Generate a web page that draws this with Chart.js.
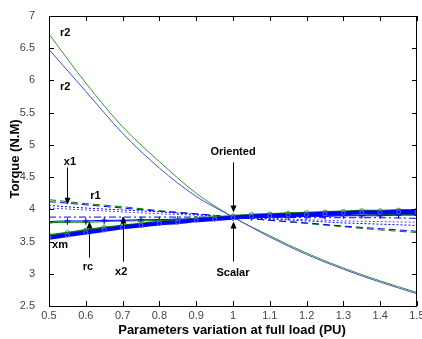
<!DOCTYPE html>
<html>
<head>
<meta charset="utf-8">
<script src="https://cdn.jsdelivr.net/npm/chart.js@4.4.0/dist/chart.umd.min.js"></script>
<style>
  html, body { margin: 0; padding: 0; background: #fff; }
  #wrap { width: 422px; height: 339px; }
</style>
</head>
<body>
<div id="wrap"><canvas id="torqueChart" width="422" height="339"></canvas></div>
<script>
// parameter variation (PU)
const xCoarse = [0.5, 0.6, 0.7, 0.8, 0.9, 1.0, 1.1, 1.2, 1.3, 1.4, 1.5];
const xFine = [0.5, 0.55, 0.6, 0.65, 0.7, 0.75, 0.8, 0.85, 0.9, 0.95, 1.0,
  1.05, 1.1, 1.15, 1.2, 1.25, 1.3, 1.35, 1.4, 1.45, 1.5];

const xTicks = [0.5, 0.6, 0.7, 0.8, 0.9, 1.0, 1.1, 1.2, 1.3, 1.4, 1.5];
const xTickLabels = ["0.5", "0.6", "0.7", "0.8", "0.9", "1", "1.1", "1.2", "1.3", "1.4", "1.5"];
const yTicks = [2.5, 3, 3.5, 4, 4.5, 5, 5.5, 6, 6.5, 7];
const yTickLabels = ["2.5", "3", "3.5", "4", "4.5", "5", "5.5", "6", "6.5", "7"];

// torque (N.M), coarse grid
const r2Green = [6.72, 5.96, 5.28, 4.74, 4.25, 3.88, 3.59, 3.32, 3.09, 2.89, 2.71];
const r2Blue = [6.48, 5.83, 5.18, 4.64, 4.20, 3.88, 3.57, 3.30, 3.07, 2.87, 2.69];
const x1Green = [4.15, 4.09, 4.04, 3.98, 3.93, 3.88, 3.83, 3.78, 3.73, 3.68, 3.64];
const x1Blue = [4.12, 4.07, 4.02, 3.97, 3.93, 3.88, 3.83, 3.79, 3.74, 3.70, 3.66];
const r1Blue = [4.06, 4.02, 3.99, 3.96, 3.92, 3.88, 3.85, 3.82, 3.79, 3.77, 3.75];
const r1Violet = [4.02, 3.99, 3.96, 3.93, 3.91, 3.88, 3.86, 3.84, 3.82, 3.81, 3.80];
const x2Blue = [3.88, 3.88, 3.88, 3.88, 3.88, 3.88, 3.88, 3.87, 3.87, 3.87, 3.86];

// torque (N.M), fine grid (marker curves)
const rcBlue = [3.81, 3.82, 3.82, 3.83, 3.83, 3.84, 3.84, 3.85, 3.85, 3.86, 3.87,
  3.87, 3.88, 3.88, 3.89, 3.89, 3.90, 3.90, 3.90, 3.91, 3.91];
const rcGreen = [3.79, 3.80, 3.80, 3.81, 3.82, 3.82, 3.83, 3.84, 3.85, 3.86, 3.87,
  3.88, 3.89, 3.89, 3.90, 3.90, 3.91, 3.91, 3.92, 3.92, 3.92];
const xmGreen = [3.59, 3.63, 3.67, 3.71, 3.74, 3.77, 3.80, 3.82, 3.85, 3.87, 3.89,
  3.91, 3.92, 3.93, 3.94, 3.95, 3.96, 3.97, 3.97, 3.98, 3.98];
const xmBlue = [3.56, 3.60, 3.64, 3.68, 3.72, 3.75, 3.78, 3.80, 3.83, 3.85, 3.87,
  3.89, 3.90, 3.91, 3.92, 3.93, 3.94, 3.95, 3.95, 3.96, 3.96];

const GREEN = "#008000";
const BLUE = "#0000ff";
const FONT = "'Liberation Sans', Arial, sans-serif";

function pts(xs, ys) {
  return xs.map((x, i) => ({ x: x, y: ys[i] }));
}

function plainLine(xs, ys, color, dash, width) {
  return {
    data: pts(xs, ys),
    borderColor: color,
    borderWidth: width || 1,
    borderDash: dash || [],
    pointRadius: 0,
    cubicInterpolationMode: "monotone",
    fill: false,
  };
}

function markerLine(xs, ys, color, style, radius, width, markColor) {
  return {
    data: pts(xs, ys),
    borderColor: color,
    borderWidth: width,
    pointStyle: style,
    pointRadius: radius,
    pointBorderColor: markColor || color,
    pointBackgroundColor: "rgba(0,0,0,0)",
    pointBorderWidth: 1,
    cubicInterpolationMode: "monotone",
    fill: false,
  };
}

// black box, inward ticks, titles and labelled arrows
const matlabFrame = {
  id: "matlabFrame",
  afterDatasetsDraw(chart) {
    const ctx = chart.ctx;
    const a = chart.chartArea;
    const xs = chart.scales.x;
    const ys = chart.scales.y;
    ctx.save();
    ctx.strokeStyle = "#000";
    ctx.lineWidth = 1;
    ctx.strokeRect(Math.round(a.left) + 0.5, Math.round(a.top) + 0.5,
      Math.round(a.right - a.left) - 1, Math.round(a.bottom - a.top));

    ctx.beginPath();
    xTicks.forEach((v) => {
      const px = Math.round(xs.getPixelForValue(v)) + 0.5;
      ctx.moveTo(px, a.bottom);
      ctx.lineTo(px, a.bottom - 5);
      ctx.moveTo(px, a.top);
      ctx.lineTo(px, a.top + 5);
    });
    yTicks.forEach((v) => {
      const py = Math.round(ys.getPixelForValue(v)) + 0.5;
      ctx.moveTo(a.left, py);
      ctx.lineTo(a.left + 5, py);
      ctx.moveTo(a.right, py);
      ctx.lineTo(a.right - 5, py);
    });
    ctx.stroke();

    // axis titles
    ctx.fillStyle = "#000";
    ctx.font = "bold 13px " + FONT;
    ctx.textAlign = "center";
    ctx.textBaseline = "middle";
    ctx.fillText("Parameters variation at full load (PU)", 232, 330);
    ctx.save();
    ctx.translate(15, 159);
    ctx.rotate(-Math.PI / 2);
    ctx.fillText("Torque (N.M)", 0, 0);
    ctx.restore();

    // curve labels
    const notes = [
      ["r2", 0.544, 6.73], ["r2", 0.544, 5.90], ["x1", 0.557, 4.74],
      ["r1", 0.626, 4.21], ["xm", 0.53, 3.44], ["rc", 0.606, 3.11],
      ["x2", 0.696, 3.03], ["Oriented", 1.0, 4.89], ["Scalar", 1.0, 3.02],
    ];
    ctx.font = "bold 11px " + FONT;
    notes.forEach(([t, x, y]) => {
      ctx.fillText(t, xs.getPixelForValue(x), ys.getPixelForValue(y));
    });

    const arrows = [
      [0.55, 4.65, 4.07], [0.609, 3.25, 3.81], [0.70, 3.19, 3.89],
      [1.0, 4.73, 3.95], [1.0, 3.19, 3.81],
    ];
    arrows.forEach(([x, y0, y1]) => {
      const px = Math.round(xs.getPixelForValue(x)) + 0.5;
      const p0 = ys.getPixelForValue(y0);
      const p1 = ys.getPixelForValue(y1);
      const dir = p1 > p0 ? 1 : -1;
      ctx.beginPath();
      ctx.moveTo(px, p0);
      ctx.lineTo(px, p1 - dir * 6);
      ctx.stroke();
      ctx.beginPath();
      ctx.moveTo(px, p1);
      ctx.lineTo(px - 3, p1 - dir * 7);
      ctx.lineTo(px + 3, p1 - dir * 7);
      ctx.closePath();
      ctx.fill();
    });
    ctx.restore();
  },
};

const ctx = document.getElementById("torqueChart").getContext("2d");

new Chart(ctx, {
  type: "line",
  data: {
    datasets: [
      markerLine(xFine, xmBlue, BLUE, "circle", 2, 4, "#6a6af0"),
      markerLine(xFine, xmGreen, GREEN, "circle", 2.5, 3, "#3c9a3c"),
      markerLine(xFine, rcBlue, BLUE, "cross", 3, 1),
      markerLine(xFine, rcGreen, GREEN, "cross", 3, 1),
      plainLine(xCoarse, x2Blue, BLUE, [7, 3, 2, 3]),
      plainLine(xCoarse, r1Blue, BLUE, [2, 2]),
      plainLine(xCoarse, r1Violet, "#5050e0", [2, 2]),
      plainLine(xCoarse, x1Blue, BLUE, [7, 4]),
      plainLine(xCoarse, x1Green, GREEN, [7, 4]),
      plainLine(xCoarse, r2Blue, "#4b4bd6"),
      plainLine(xCoarse, r2Green, "#2f9a2f"),
    ],
  },
  options: {
    responsive: false,
    animation: false,
    events: [],
    layout: { padding: { top: 16, right: 5, left: 0, bottom: 0 } },
    plugins: {
      legend: { display: false },
      tooltip: { enabled: false },
    },
    scales: {
      x: {
        type: "linear",
        min: 0.5,
        max: 1.5,
        grid: { display: false },
        border: { display: false },
        afterBuildTicks: (scale) => {
          scale.ticks = xTicks.map((v) => ({ value: v }));
        },
        afterFit: (scale) => {
          scale.height = 33;
          scale.paddingLeft = 0;
          scale.paddingRight = 0;
        },
        ticks: {
          padding: -5,
          maxRotation: 0,
          autoSkip: false,
          color: "#444",
          font: { family: FONT, size: 11 },
          callback: (v, i) => xTickLabels[i],
        },
      },
      y: {
        type: "linear",
        min: 2.5,
        max: 7,
        grid: { display: false },
        border: { display: false },
        afterBuildTicks: (scale) => {
          scale.ticks = yTicks.map((v) => ({ value: v }));
        },
        afterFit: (scale) => {
          scale.width = 49;
          scale.paddingTop = 0;
          scale.paddingBottom = 0;
        },
        ticks: {
          padding: 6,
          autoSkip: false,
          color: "#444",
          font: { family: FONT, size: 11 },
          callback: (v, i) => yTickLabels[i],
        },
      },
    },
  },
  plugins: [matlabFrame],
});
</script>
</body>
</html>
